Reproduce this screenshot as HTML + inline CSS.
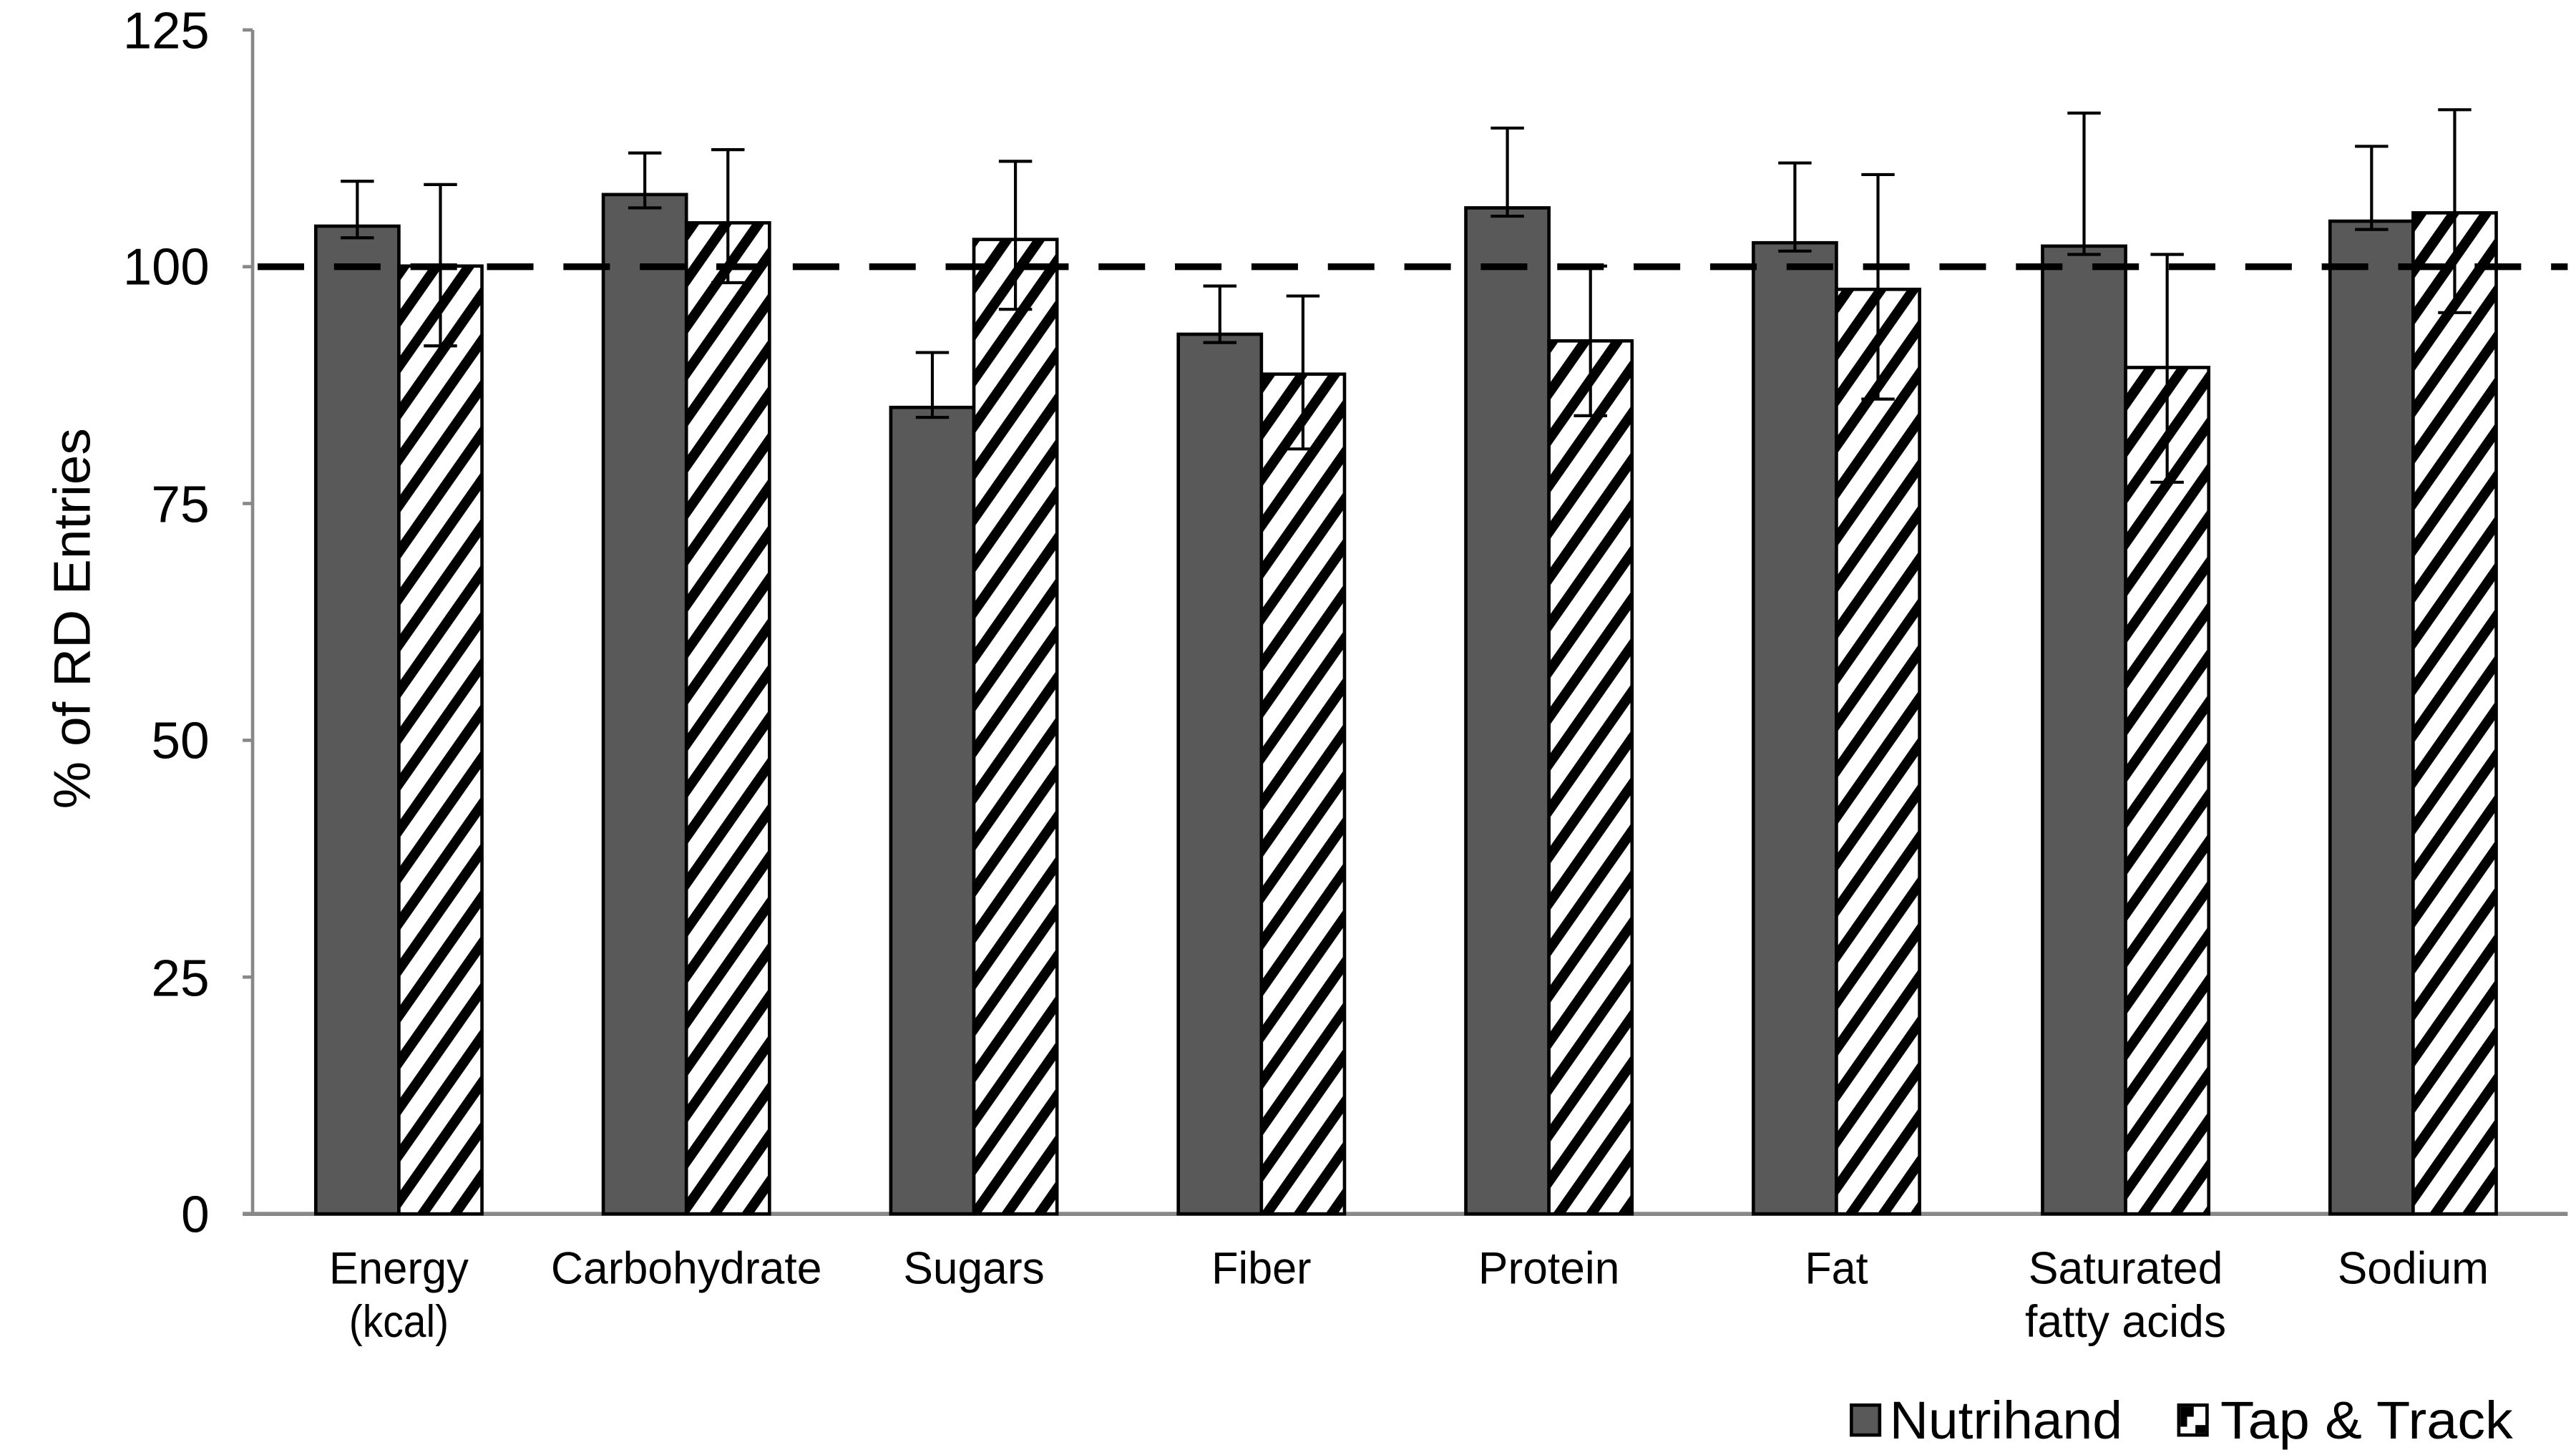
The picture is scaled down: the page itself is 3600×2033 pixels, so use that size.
<!DOCTYPE html>
<html><head><meta charset="utf-8"><style>html,body{margin:0;padding:0;background:#fff;}svg{display:block;}</style></head>
<body>
<svg width="3600" height="2033" viewBox="0 0 1550 875" preserveAspectRatio="none" xmlns="http://www.w3.org/2000/svg" font-family="Liberation Sans, Arial, sans-serif">
<defs>
<pattern id="st" patternUnits="userSpaceOnUse" width="16" height="16" patternTransform="rotate(35)">
<rect width="16" height="16" fill="#fff"/>
<rect x="0" y="0" width="6" height="16" fill="#000"/>
</pattern>
</defs>
<rect width="1550" height="875" fill="#fff"/>
<!-- axes -->
<line x1="152" y1="18" x2="152" y2="730" stroke="#888" stroke-width="2"/>
<line x1="146" y1="730" x2="1545" y2="730" stroke="#888" stroke-width="2.5"/>
<g stroke="#888" stroke-width="2">
<line x1="146" y1="18" x2="152" y2="18"/><line x1="146" y1="160.4" x2="152" y2="160.4"/>
<line x1="146" y1="302.8" x2="152" y2="302.8"/><line x1="146" y1="445.2" x2="152" y2="445.2"/>
<line x1="146" y1="587.6" x2="152" y2="587.6"/>
</g>
<g font-size="31" text-anchor="end" fill="#000">
<text x="126" y="29" textLength="52" lengthAdjust="spacingAndGlyphs">125</text>
<text x="126" y="171" textLength="52" lengthAdjust="spacingAndGlyphs">100</text>
<text x="126" y="314" textLength="35" lengthAdjust="spacingAndGlyphs">75</text>
<text x="126" y="456" textLength="35" lengthAdjust="spacingAndGlyphs">50</text>
<text x="126" y="599" textLength="35" lengthAdjust="spacingAndGlyphs">25</text>
<text x="126" y="741" textLength="17" lengthAdjust="spacingAndGlyphs">0</text>
</g>
<text transform="translate(54,372) rotate(-90)" font-size="31" text-anchor="middle" textLength="229" lengthAdjust="spacingAndGlyphs">% of RD Entries</text>
<!-- bars -->
<g stroke="#000" stroke-width="2">
<rect x="190" y="136" width="50" height="594" fill="#595959"/><rect x="240" y="160" width="50" height="570" fill="url(#st)"/>
<rect x="363" y="117" width="50" height="613" fill="#595959"/><rect x="413" y="134" width="50" height="596" fill="url(#st)"/>
<rect x="536" y="245" width="50" height="485" fill="#595959"/><rect x="586" y="144" width="50" height="586" fill="url(#st)"/>
<rect x="709" y="201" width="50" height="529" fill="#595959"/><rect x="759" y="225" width="50" height="505" fill="url(#st)"/>
<rect x="882" y="125" width="50" height="605" fill="#595959"/><rect x="932" y="205" width="50" height="525" fill="url(#st)"/>
<rect x="1055" y="146" width="50" height="584" fill="#595959"/><rect x="1105" y="174" width="50" height="556" fill="url(#st)"/>
<rect x="1229" y="148" width="50" height="582" fill="#595959"/><rect x="1279" y="221" width="50" height="509" fill="url(#st)"/>
<rect x="1402" y="133" width="50" height="597" fill="#595959"/><rect x="1452" y="128" width="50" height="602" fill="url(#st)"/>
</g>
<!-- dashed line -->
<line x1="155" y1="160.4" x2="1545" y2="160.4" stroke="#000" stroke-width="4" stroke-dasharray="28,18"/>
<!-- error bars -->
<g stroke="#000" stroke-width="1.8" fill="none">
<path d="M215 109V143M205 109H225M205 143H225"/><path d="M265 111V208M255 111H275M255 208H275"/>
<path d="M388 92V125M378 92H398M378 125H398"/><path d="M438 90V170M428 90H448M428 170H448"/>
<path d="M561 212V251M551 212H571M551 251H571"/><path d="M611 97V186M601 97H621M601 186H621"/>
<path d="M734 172V206M724 172H744M724 206H744"/><path d="M784 178V270M774 178H794M774 270H794"/>
<path d="M907 77V130M897 77H917M897 130H917"/><path d="M957 160V250M947 160H967M947 250H967"/>
<path d="M1080 98V151M1070 98H1090M1070 151H1090"/><path d="M1130 105V240M1120 105H1140M1120 240H1140"/>
<path d="M1254 68V153M1244 68H1264M1244 153H1264"/><path d="M1304 153V290M1294 153H1314M1294 290H1314"/>
<path d="M1427 88V138M1417 88H1437M1417 138H1437"/><path d="M1477 66V188M1467 66H1487M1467 188H1487"/>
</g>
<!-- category labels -->
<g font-size="27" text-anchor="middle" fill="#000">
<text x="240" y="772" textLength="84" lengthAdjust="spacingAndGlyphs">Energy</text>
<text x="240" y="804" textLength="60" lengthAdjust="spacingAndGlyphs">(kcal)</text>
<text x="413" y="772" textLength="163" lengthAdjust="spacingAndGlyphs">Carbohydrate</text>
<text x="586" y="772" textLength="85" lengthAdjust="spacingAndGlyphs">Sugars</text>
<text x="759" y="772" textLength="60" lengthAdjust="spacingAndGlyphs">Fiber</text>
<text x="932" y="772" textLength="85" lengthAdjust="spacingAndGlyphs">Protein</text>
<text x="1105" y="772" textLength="38" lengthAdjust="spacingAndGlyphs">Fat</text>
<text x="1279" y="772" textLength="117" lengthAdjust="spacingAndGlyphs">Saturated</text>
<text x="1279" y="804" textLength="121" lengthAdjust="spacingAndGlyphs">fatty acids</text>
<text x="1452" y="772" textLength="91" lengthAdjust="spacingAndGlyphs">Sodium</text>
</g>
<!-- legend -->
<rect x="1114" y="845" width="17" height="18" fill="#595959" stroke="#000" stroke-width="2"/>
<text x="1137" y="865" font-size="32" textLength="140" lengthAdjust="spacingAndGlyphs">Nutrihand</text>
<rect x="1311" y="845" width="17" height="18" fill="#fff" stroke="#000" stroke-width="2"/>
<path d="M1312 846h8v6h-4v6h-4z" fill="#000"/><path d="M1327 862h-6v-5h6z" fill="#000"/>
<text x="1336" y="865" font-size="32" textLength="176" lengthAdjust="spacingAndGlyphs">Tap &amp; Track</text>
</svg>
</body></html>
